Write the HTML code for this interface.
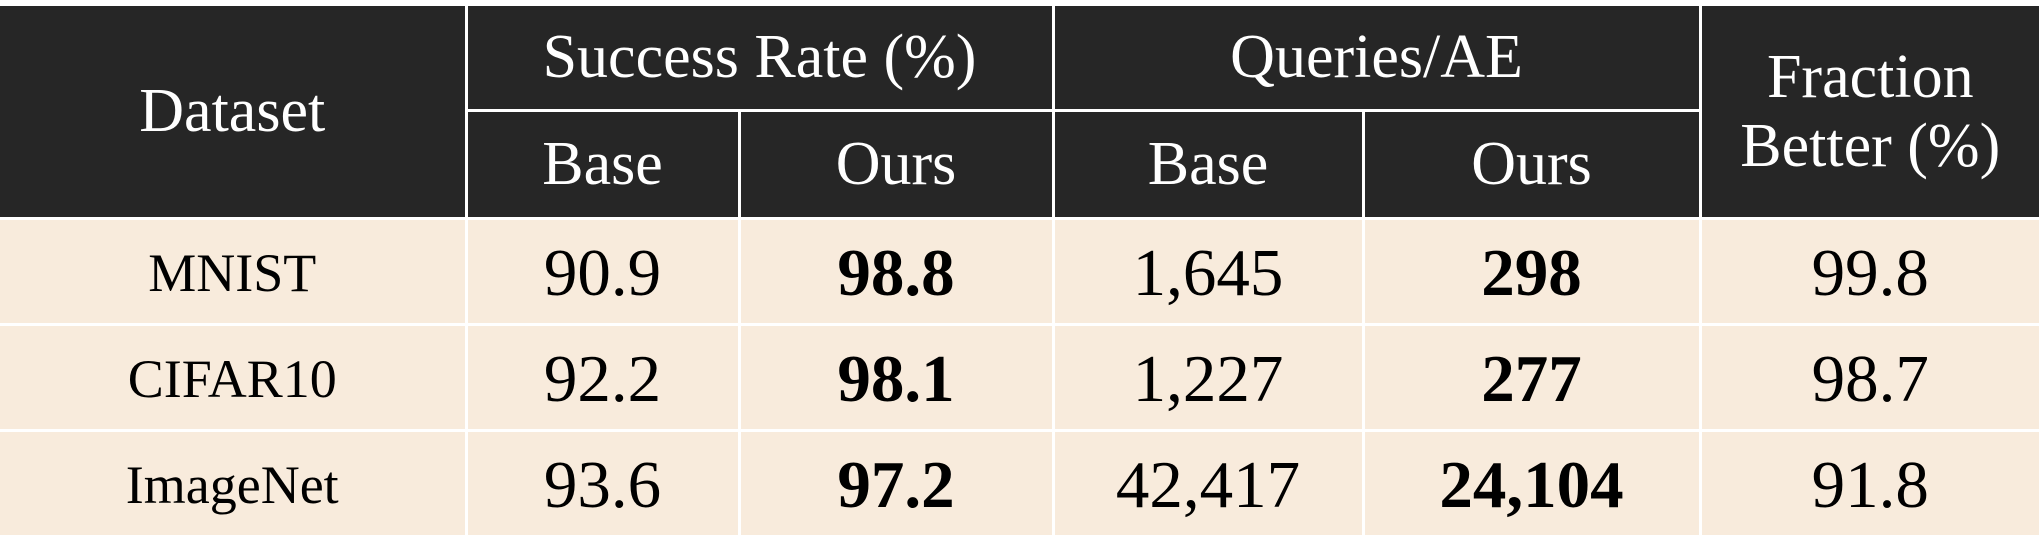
<!DOCTYPE html>
<html><head><meta charset="utf-8"><style>
html,body{margin:0;padding:0;background:#fff;width:2039px;height:560px;overflow:hidden}
table{position:absolute;left:0;top:6px;width:2039px;border-collapse:collapse;font-family:"Liberation Serif",serif;table-layout:fixed}
td,th{border:3px solid #fff;text-align:center;padding:0;font-weight:normal}
th{background:#262626;color:#fff;font-size:62px;line-height:1.1}
td{background:#f8ebdc;color:#000;font-size:67px;height:106px;padding-top:3px;box-sizing:border-box}
td.name{font-size:54px}
b{font-weight:bold}
tr.h1 th{height:103px}
tr.h2 th{height:105px;font-size:62px}
table tr:first-child th{border-top:none}
th:first-child,td:first-child{border-left:none}
th:last-child,td:last-child{border-right:none}
</style></head><body>
<table>
<colgroup><col style="width:466px"><col style="width:273px"><col style="width:314px"><col style="width:310px"><col style="width:337px"><col style="width:339px"></colgroup>
<tr class="h1">
<th rowspan="2">Dataset</th>
<th colspan="2">Success Rate (%)</th>
<th colspan="2">Queries/AE</th>
<th rowspan="2">Fraction<br>Better (%)</th>
</tr>
<tr class="h2">
<th>Base</th>
<th>Ours</th>
<th>Base</th>
<th>Ours</th>
</tr>
<tr>
<td class="name">MNIST</td>
<td>90.9</td>
<td><b>98.8</b></td>
<td>1,645</td>
<td><b>298</b></td>
<td>99.8</td>
</tr>
<tr>
<td class="name">CIFAR10</td>
<td>92.2</td>
<td><b>98.1</b></td>
<td>1,227</td>
<td><b>277</b></td>
<td>98.7</td>
</tr>
<tr>
<td class="name">ImageNet</td>
<td>93.6</td>
<td><b>97.2</b></td>
<td>42,417</td>
<td><b>24,104</b></td>
<td>91.8</td>
</tr>
</table>
</body></html>
